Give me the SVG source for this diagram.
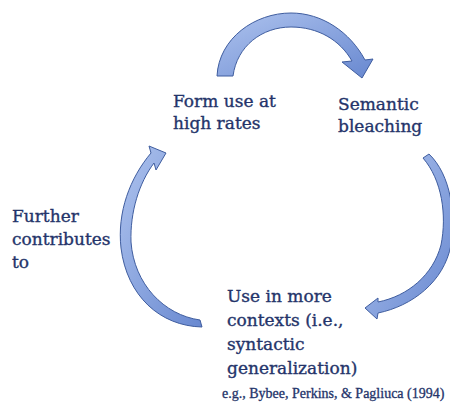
<svg xmlns="http://www.w3.org/2000/svg" width="450" height="407" viewBox="0 0 450 407">
  <defs>
    <linearGradient id="arrowGrad" x1="0" y1="0" x2="1" y2="1">
      <stop offset="0" stop-color="#aec3ee"/>
      <stop offset="1" stop-color="#6888d0"/>
    </linearGradient>
    <style>
      .arrow { fill: url(#arrowGrad); stroke: #3f5d9f; stroke-width: 1; stroke-linejoin: round; }
      .lbl { font-family: "DejaVu Serif", "Liberation Serif", serif; font-size: 17px; fill: #24346a; stroke: #24346a; stroke-width: 0.35px; }
      .cite { font-family: "Liberation Serif", "DejaVu Serif", serif; font-size: 14px; fill: #24346a; stroke: #24346a; stroke-width: 0.3px; }
    </style>
  </defs>
  <rect width="450" height="407" fill="#ffffff"/>

  <g id="connectors">
    <path id="arrow-top" class="arrow" d="M 217,76 C 219,38 255,13 291,13 C 322,13 350,32 365,60 L 373,59 L 362,78 L 342,62 L 352,61 C 340,40 318,27 291,27 C 262,27 237,46 233,76 Z"/>
    <path id="arrow-right" class="arrow" d="M 429,154 C 451,175 456,215 451,245 C 444,282 412,306 378,313 L 377,319 L 365,308 L 378,298 L 378,302 C 408,296 433,275 441,245 C 447,215 442,180 423,158 Z"/>
    <path id="arrow-left" class="arrow" d="M 202,327 C 160,326 127,296 121,248 C 117,212 130,178 151,153 L 149,146 L 166,153 L 156,170 L 154,163 C 139,183 130,212 131,242 C 134,284 164,315 200,320 Z"/>
  </g>

  <g id="node-form-use">
    <text class="lbl" x="173" y="107">Form use at</text>
    <text class="lbl" x="173" y="129">high rates</text>
  </g>

  <g id="node-semantic-bleaching">
    <text class="lbl" x="338" y="110">Semantic</text>
    <text class="lbl" x="338" y="132">bleaching</text>
  </g>

  <g id="node-use-in-contexts">
    <text class="lbl" x="227" y="302">Use in more</text>
    <text class="lbl" x="227" y="326">contexts (i.e.,</text>
    <text class="lbl" x="227" y="350">syntactic</text>
    <text class="lbl" x="227" y="374">generalization)</text>
  </g>

  <g id="node-further-contributes">
    <text class="lbl" x="12" y="222">Further</text>
    <text class="lbl" x="12" y="245">contributes</text>
    <text class="lbl" x="12" y="268">to</text>
  </g>

  <g id="citation">
    <text class="cite" x="222" y="398">e.g., Bybee, Perkins, &amp; Pagliuca (1994)</text>
  </g>
</svg>
